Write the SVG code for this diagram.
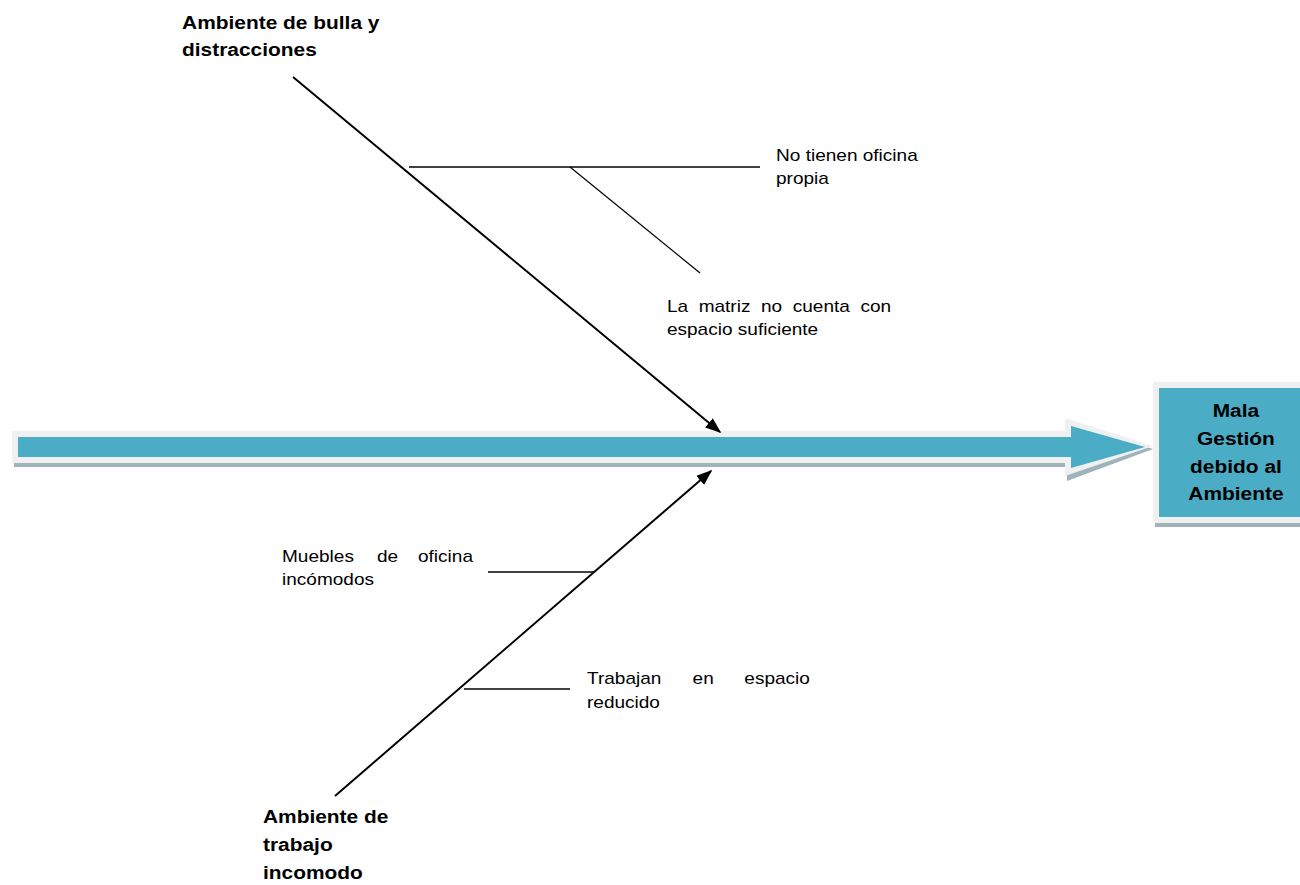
<svg xmlns="http://www.w3.org/2000/svg" width="1300" height="885" viewBox="0 0 1300 885">
<defs>
<style>
.r{font-family:"Liberation Sans",Arial,sans-serif;font-size:17px;fill:#000}
.b{font-family:"Liberation Sans",Arial,sans-serif;font-size:19px;font-weight:bold;fill:#000}
.ln{stroke:#000;fill:none}
</style>
<marker id="ah2" viewBox="0 0 10 10" refX="9" refY="5" markerWidth="16" markerHeight="12" markerUnits="userSpaceOnUse" orient="auto" preserveAspectRatio="none">
<path d="M0,0 L10,5 L0,10 z" fill="#000"/>
</marker>
</defs>
<rect width="1300" height="885" fill="#fff"/>
<g id="spine">
<path d="M14,435 H1067 V421 L1153,449 L1067,481 V467 H14 z" fill="#9fb3bb"/>
<path d="M12,431 H1065 V418 L1153,446 L1065,476 V463 H12 z" fill="#f0f0f0"/>
<path d="M18,437 H1071 V426 L1145,447 L1071,468 V457 H18 z" fill="#4bacc6"/>
</g>
<g id="effect">
<rect x="1155" y="385" width="150" height="142" fill="#9fb3bb"/>
<rect x="1153" y="382" width="150" height="141" fill="#f0f0f0"/>
<rect x="1159" y="388" width="145" height="129" fill="#4bacc6"/>
<text class="b" transform="scale(1.1 1)" text-anchor="middle"><tspan x="1123.6" y="417">Mala</tspan><tspan x="1123.6" y="445">Gestión</tspan><tspan x="1123.6" y="473">debido al</tspan><tspan x="1123.6" y="500">Ambiente</tspan></text>
</g>
<g id="connectors">
<line class="ln" x1="293" y1="77" x2="720" y2="432" stroke-width="2" marker-end="url(#ah2)"/>
<line class="ln" x1="335" y1="796" x2="711" y2="471" stroke-width="2" marker-end="url(#ah2)"/>
<line class="ln" x1="409" y1="167" x2="760" y2="167" stroke-width="1.5"/>
<line class="ln" x1="570" y1="167" x2="700" y2="273" stroke-width="1.2"/>
<line class="ln" x1="488" y1="572" x2="594" y2="572" stroke-width="1.5"/>
<line class="ln" x1="464" y1="689" x2="570" y2="689" stroke-width="1.5"/>
</g>
<g id="cause-top">
<text class="b" transform="scale(1.1 1)"><tspan x="165.5" y="29">Ambiente de bulla y</tspan><tspan x="165.5" y="56">distracciones</tspan></text>
</g>
<g id="cause-bottom">
<text class="b" transform="scale(1.1 1)"><tspan x="239.1" y="823">Ambiente de</tspan><tspan x="239.1" y="851">trabajo</tspan><tspan x="239.1" y="879">incomodo</tspan></text>
</g>
<g id="sub1">
<text class="r" transform="scale(1.12 1)"><tspan x="692.9" y="161">No tienen oficina</tspan><tspan x="692.9" y="184">propia</tspan></text>
</g>
<g id="sub2">
<text class="r" transform="scale(1.12 1)"><tspan x="595.5" y="312">La</tspan><tspan x="623.8" y="312">matriz</tspan><tspan x="679.5" y="312">no</tspan><tspan x="707.8" y="312">cuenta</tspan><tspan x="768.2" y="312">con</tspan><tspan x="595.5" y="335">espacio suficiente</tspan></text>
</g>
<g id="sub3">
<text class="r" transform="scale(1.12 1)"><tspan x="251.8" y="562">Muebles</tspan><tspan x="336.6" y="562">de</tspan><tspan x="373.2" y="562">oficina</tspan><tspan x="251.8" y="585">incómodos</tspan></text>
</g>
<g id="sub4">
<text class="r" transform="scale(1.12 1)"><tspan x="524.1" y="684">Trabajan</tspan><tspan x="618.4" y="684">en</tspan><tspan x="664.6" y="684">espacio</tspan><tspan x="524.1" y="708">reducido</tspan></text>
</g>
</svg>
